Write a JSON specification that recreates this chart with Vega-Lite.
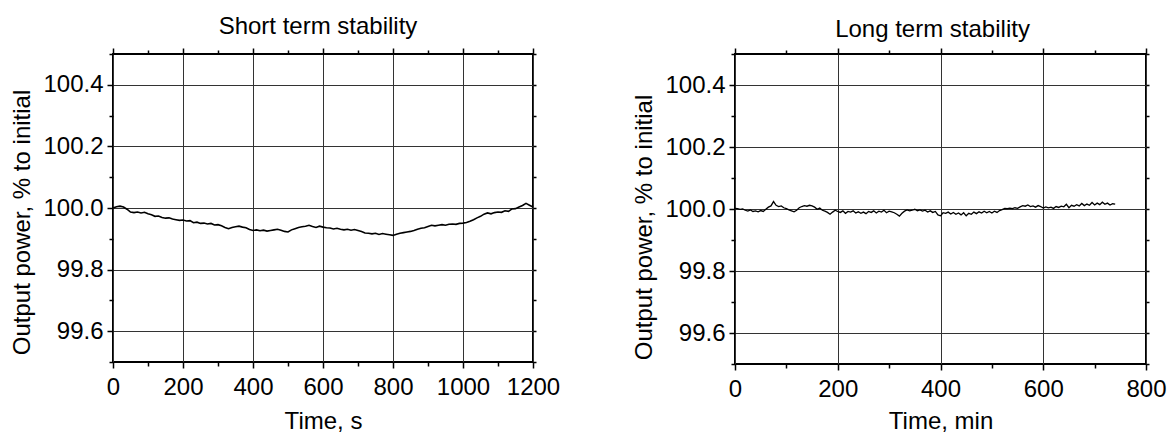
{
  "$schema": "https://vega.github.io/schema/vega-lite/v6.json",
  "background": "white",
  "padding": {"left": 9, "top": 14, "right": 5, "bottom": 2},
  "spacing": 70,
  "config": {
    "font": "Liberation Sans",
    "view": {"stroke": "black", "strokeWidth": 2},
    "title": {"fontSize": 24, "fontWeight": "normal", "font": "Liberation Sans", "color": "black", "offset": 3},
    "axis": {
      "labelFont": "Liberation Sans",
      "titleFont": "Liberation Sans",
      "labelFontSize": 24,
      "titleFontSize": 24,
      "titleFontWeight": "normal",
      "labelColor": "black",
      "titleColor": "black",
      "tickColor": "black",
      "tickWidth": 1.5,
      "domain": false,
      "gridColor": "#333",
      "gridWidth": 1,
      "labelOverlap": false,
      "labelFlush": false,
      "labelBound": false
    }
  },
  "hconcat": [
    {
      "width": 420,
      "height": 308,
      "title": {"text": "Short term stability", "dx": -5},
      "data": {"values": [
        {"t":0,"p":100.000},{"t":10,"p":100.004},{"t":20,"p":100.006},{"t":30,"p":100.003},{"t":40,"p":99.996},
        {"t":50,"p":99.987},{"t":60,"p":99.985},{"t":70,"p":99.987},{"t":80,"p":99.984},{"t":90,"p":99.986},
        {"t":100,"p":99.981},{"t":110,"p":99.978},{"t":120,"p":99.973},{"t":130,"p":99.974},{"t":140,"p":99.969},
        {"t":150,"p":99.967},{"t":160,"p":99.968},{"t":170,"p":99.964},{"t":180,"p":99.962},{"t":190,"p":99.960},
        {"t":200,"p":99.961},{"t":210,"p":99.958},{"t":220,"p":99.959},{"t":230,"p":99.952},{"t":240,"p":99.954},
        {"t":250,"p":99.950},{"t":260,"p":99.951},{"t":270,"p":99.948},{"t":280,"p":99.950},{"t":290,"p":99.945},
        {"t":300,"p":99.946},{"t":310,"p":99.942},{"t":320,"p":99.937},{"t":330,"p":99.933},{"t":340,"p":99.937},
        {"t":350,"p":99.939},{"t":360,"p":99.941},{"t":370,"p":99.938},{"t":380,"p":99.936},{"t":390,"p":99.930},
        {"t":400,"p":99.927},{"t":410,"p":99.929},{"t":420,"p":99.926},{"t":430,"p":99.928},{"t":440,"p":99.925},
        {"t":450,"p":99.927},{"t":460,"p":99.929},{"t":470,"p":99.931},{"t":480,"p":99.928},{"t":490,"p":99.924},
        {"t":500,"p":99.922},{"t":510,"p":99.929},{"t":520,"p":99.933},{"t":530,"p":99.937},{"t":540,"p":99.939},
        {"t":550,"p":99.941},{"t":560,"p":99.944},{"t":570,"p":99.940},{"t":580,"p":99.937},{"t":590,"p":99.941},
        {"t":600,"p":99.938},{"t":610,"p":99.936},{"t":620,"p":99.935},{"t":630,"p":99.932},{"t":640,"p":99.934},
        {"t":650,"p":99.931},{"t":660,"p":99.929},{"t":670,"p":99.931},{"t":680,"p":99.928},{"t":690,"p":99.930},
        {"t":700,"p":99.927},{"t":710,"p":99.924},{"t":720,"p":99.919},{"t":730,"p":99.918},{"t":740,"p":99.916},
        {"t":750,"p":99.918},{"t":760,"p":99.914},{"t":770,"p":99.917},{"t":780,"p":99.915},{"t":790,"p":99.913},
        {"t":800,"p":99.911},{"t":810,"p":99.915},{"t":820,"p":99.918},{"t":830,"p":99.920},{"t":840,"p":99.922},
        {"t":850,"p":99.924},{"t":860,"p":99.927},{"t":870,"p":99.931},{"t":880,"p":99.934},{"t":890,"p":99.936},
        {"t":900,"p":99.940},{"t":910,"p":99.944},{"t":920,"p":99.942},{"t":930,"p":99.944},{"t":940,"p":99.946},
        {"t":950,"p":99.944},{"t":960,"p":99.947},{"t":970,"p":99.948},{"t":980,"p":99.947},{"t":990,"p":99.950},
        {"t":1000,"p":99.951},{"t":1010,"p":99.953},{"t":1020,"p":99.957},{"t":1030,"p":99.962},{"t":1040,"p":99.968},
        {"t":1050,"p":99.973},{"t":1060,"p":99.980},{"t":1070,"p":99.984},{"t":1080,"p":99.981},{"t":1090,"p":99.985},
        {"t":1100,"p":99.987},{"t":1110,"p":99.986},{"t":1120,"p":99.991},{"t":1130,"p":99.989},{"t":1140,"p":99.997},
        {"t":1150,"p":99.998},{"t":1160,"p":100.003},{"t":1170,"p":100.008},{"t":1180,"p":100.015},{"t":1190,"p":100.009},
        {"t":1200,"p":100.003}
      ]},
      "layer": [
        {
          "mark": {"type": "line", "color": "black", "strokeWidth": 1.6},
          "encoding": {
            "x": {
              "field": "t", "type": "quantitative",
              "scale": {"domain": [0, 1200], "nice": false, "zero": false},
              "axis": {
                "title": "Time, s",
                "values": [0,100,200,300,400,500,600,700,800,900,1000,1100,1200],
                "labelExpr": "datum.value % 200 === 0 ? datum.label : ''",
                "format": "d",
                "tickSize": {"condition": {"test": "datum.value % 200 === 0", "value": 6}, "value": 4},
                "grid": true,
                "gridOpacity": {"condition": {"test": "datum.value % 200 === 0", "value": 1}, "value": 0},
                "labelPadding": 7,
                "titlePadding": 10
              }
            },
            "y": {
              "field": "p", "type": "quantitative",
              "scale": {"domain": [99.5, 100.5], "nice": false, "zero": false},
              "axis": {
                "title": "Output power, % to initial",
                "titleY": 168,
                "values": [99.5,99.6,99.7,99.8,99.9,100.0,100.1,100.2,100.3,100.4,100.5],
                "labelExpr": "round(datum.value * 10) % 2 === 0 ? datum.label : ''",
                "format": ".1f",
                "tickSize": {"condition": {"test": "round(datum.value * 10) % 2 === 0", "value": 6}, "value": 4},
                "grid": true,
                "gridOpacity": {"condition": {"test": "round(datum.value * 10) % 2 === 0", "value": 1}, "value": 0},
                "labelPadding": 4,
                "titlePadding": 8
              }
            }
          }
        },
        {
          "mark": {"type": "line", "opacity": 0},
          "encoding": {
            "x": {
              "field": "t", "type": "quantitative",
              "scale": {"domain": [0, 1200], "nice": false, "zero": false},
              "axis": {
                "orient": "top", "title": null, "labels": false, "grid": false,
                "values": [0,100,200,300,400,500,600,700,800,900,1000,1100,1200],
                "tickSize": {"condition": {"test": "datum.value % 200 === 0", "value": 6}, "value": 4}
              }
            },
            "y": {
              "field": "p", "type": "quantitative",
              "scale": {"domain": [99.5, 100.5], "nice": false, "zero": false},
              "axis": {
                "orient": "right", "title": null, "labels": false, "grid": false,
                "values": [99.5,99.6,99.7,99.8,99.9,100.0,100.1,100.2,100.3,100.4,100.5],
                "tickSize": 3
              }
            }
          }
        }
      ],
      "resolve": {"axis": {"x": "independent", "y": "independent"}}
    },
    {
      "width": 411,
      "height": 310,
      "title": {"text": "Long term stability", "dx": -8, "dy": 3},
      "data": {"values": [
        {"t":0,"p":100.002},{"t":5,"p":100.001},{"t":10,"p":99.999},{"t":15,"p":100.000},{"t":20,"p":99.996},
        {"t":25,"p":99.993},{"t":30,"p":99.997},{"t":35,"p":99.992},{"t":40,"p":99.994},{"t":45,"p":99.991},
        {"t":50,"p":99.995},{"t":55,"p":99.992},{"t":60,"p":99.999},{"t":65,"p":100.006},{"t":70,"p":100.010},
        {"t":75,"p":100.024},{"t":80,"p":100.012},{"t":85,"p":100.008},{"t":90,"p":100.010},{"t":95,"p":100.004},
        {"t":100,"p":100.001},{"t":105,"p":99.997},{"t":110,"p":99.994},{"t":115,"p":99.991},{"t":120,"p":99.996},
        {"t":125,"p":100.004},{"t":130,"p":100.008},{"t":135,"p":100.011},{"t":140,"p":100.009},{"t":145,"p":100.012},
        {"t":150,"p":100.010},{"t":155,"p":100.006},{"t":160,"p":99.999},{"t":165,"p":100.003},{"t":170,"p":99.996},
        {"t":175,"p":99.993},{"t":180,"p":99.989},{"t":185,"p":99.983},{"t":190,"p":99.990},{"t":195,"p":99.996},
        {"t":200,"p":99.992},{"t":205,"p":99.989},{"t":210,"p":99.994},{"t":215,"p":99.986},{"t":220,"p":99.992},
        {"t":225,"p":99.990},{"t":230,"p":99.994},{"t":235,"p":99.987},{"t":240,"p":99.991},{"t":245,"p":99.986},
        {"t":250,"p":99.990},{"t":255,"p":99.985},{"t":260,"p":99.992},{"t":265,"p":99.989},{"t":270,"p":99.994},
        {"t":275,"p":99.987},{"t":280,"p":99.993},{"t":285,"p":99.990},{"t":290,"p":99.996},{"t":295,"p":99.988},
        {"t":300,"p":99.993},{"t":305,"p":99.991},{"t":310,"p":99.988},{"t":315,"p":99.983},{"t":320,"p":99.977},
        {"t":325,"p":99.986},{"t":330,"p":99.993},{"t":335,"p":99.997},{"t":340,"p":99.994},{"t":345,"p":99.996},
        {"t":350,"p":99.999},{"t":355,"p":99.994},{"t":360,"p":99.997},{"t":365,"p":99.993},{"t":370,"p":99.996},
        {"t":375,"p":99.990},{"t":380,"p":99.994},{"t":385,"p":99.989},{"t":390,"p":99.992},{"t":395,"p":99.981},
        {"t":400,"p":99.978},{"t":405,"p":99.988},{"t":410,"p":99.986},{"t":415,"p":99.990},{"t":420,"p":99.984},
        {"t":425,"p":99.989},{"t":430,"p":99.983},{"t":435,"p":99.987},{"t":440,"p":99.981},{"t":445,"p":99.988},
        {"t":450,"p":99.978},{"t":455,"p":99.986},{"t":460,"p":99.983},{"t":465,"p":99.990},{"t":470,"p":99.985},
        {"t":475,"p":99.991},{"t":480,"p":99.987},{"t":485,"p":99.993},{"t":490,"p":99.988},{"t":495,"p":99.992},
        {"t":500,"p":99.987},{"t":505,"p":99.993},{"t":510,"p":99.989},{"t":515,"p":99.995},{"t":520,"p":99.998},
        {"t":525,"p":100.002},{"t":530,"p":100.001},{"t":535,"p":100.003},{"t":540,"p":100.001},{"t":545,"p":100.004},
        {"t":550,"p":100.002},{"t":555,"p":100.007},{"t":560,"p":100.011},{"t":565,"p":100.009},{"t":570,"p":100.013},
        {"t":575,"p":100.008},{"t":580,"p":100.010},{"t":585,"p":100.006},{"t":590,"p":100.011},{"t":595,"p":100.008},
        {"t":600,"p":100.003},{"t":605,"p":100.007},{"t":610,"p":100.004},{"t":615,"p":100.006},{"t":620,"p":100.002},
        {"t":625,"p":100.008},{"t":630,"p":100.005},{"t":635,"p":100.009},{"t":640,"p":100.007},{"t":645,"p":100.015},
        {"t":650,"p":100.004},{"t":655,"p":100.012},{"t":660,"p":100.009},{"t":665,"p":100.014},{"t":670,"p":100.010},
        {"t":675,"p":100.018},{"t":680,"p":100.011},{"t":685,"p":100.016},{"t":690,"p":100.012},{"t":695,"p":100.021},
        {"t":700,"p":100.013},{"t":705,"p":100.019},{"t":710,"p":100.014},{"t":715,"p":100.022},{"t":720,"p":100.015},
        {"t":725,"p":100.019},{"t":730,"p":100.013},{"t":735,"p":100.017},{"t":740,"p":100.016}
      ]},
      "layer": [
        {
          "mark": {"type": "line", "color": "black", "strokeWidth": 1.3},
          "encoding": {
            "x": {
              "field": "t", "type": "quantitative",
              "scale": {"domain": [0, 800], "nice": false, "zero": false},
              "axis": {
                "title": "Time, min",
                "values": [0,100,200,300,400,500,600,700,800],
                "labelExpr": "datum.value % 200 === 0 ? datum.label : ''",
                "format": "d",
                "tickSize": {"condition": {"test": "datum.value % 200 === 0", "value": 6}, "value": 4},
                "grid": true,
                "gridOpacity": {"condition": {"test": "datum.value % 200 === 0", "value": 1}, "value": 0},
                "labelPadding": 7,
                "titlePadding": 8
              }
            },
            "y": {
              "field": "p", "type": "quantitative",
              "scale": {"domain": [99.5, 100.5], "nice": false, "zero": false},
              "axis": {
                "title": "Output power, % to initial",
                "titleY": 173,
                "values": [99.5,99.6,99.7,99.8,99.9,100.0,100.1,100.2,100.3,100.4,100.5],
                "labelExpr": "round(datum.value * 10) % 2 === 0 ? datum.label : ''",
                "format": ".1f",
                "tickSize": {"condition": {"test": "round(datum.value * 10) % 2 === 0", "value": 6}, "value": 4},
                "grid": true,
                "gridOpacity": {"condition": {"test": "round(datum.value * 10) % 2 === 0", "value": 1}, "value": 0},
                "labelPadding": 4,
                "titlePadding": 8
              }
            }
          }
        },
        {
          "mark": {"type": "line", "opacity": 0},
          "encoding": {
            "x": {
              "field": "t", "type": "quantitative",
              "scale": {"domain": [0, 800], "nice": false, "zero": false},
              "axis": {
                "orient": "top", "title": null, "labels": false, "grid": false,
                "values": [0,100,200,300,400,500,600,700,800],
                "tickSize": {"condition": {"test": "datum.value % 200 === 0", "value": 6}, "value": 4}
              }
            },
            "y": {
              "field": "p", "type": "quantitative",
              "scale": {"domain": [99.5, 100.5], "nice": false, "zero": false},
              "axis": {
                "orient": "right", "title": null, "labels": false, "grid": false,
                "values": [99.5,99.6,99.7,99.8,99.9,100.0,100.1,100.2,100.3,100.4,100.5],
                "tickSize": 3
              }
            }
          }
        }
      ],
      "resolve": {"axis": {"x": "independent", "y": "independent"}}
    }
  ]
}
